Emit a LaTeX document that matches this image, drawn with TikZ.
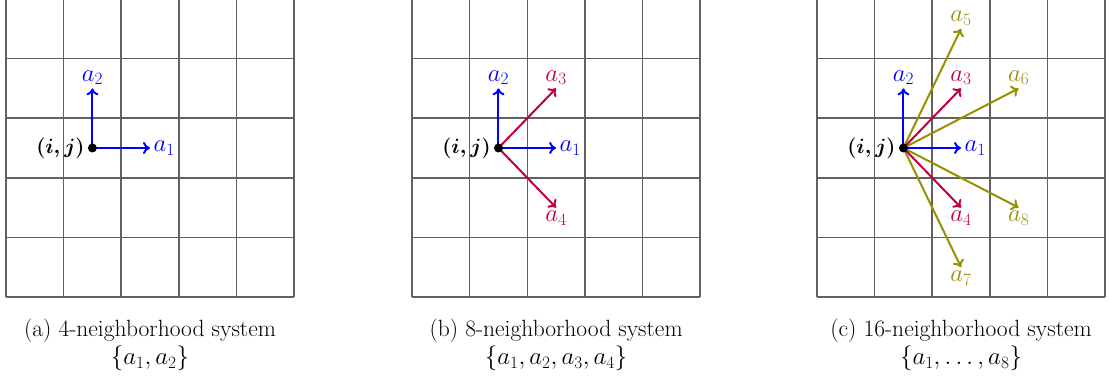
\documentclass[tikz,border=0pt]{standalone}
\usepackage{amsmath,amssymb}
\usepackage{xcolor}
\usetikzlibrary{arrows.meta}
\definecolor{nbblue}{RGB}{0,0,255}
\definecolor{nbred}{RGB}{191,0,64}
\definecolor{nbolive}{RGB}{150,145,0}

\begin{document}
\begin{tikzpicture}[
    x=57.6pt, y=59.6pt,
    font=\fontsize{23.5}{28}\selectfont,
    gridline/.style={draw=black!62, line width=1.5pt},
    vec/.style={-{To[length=7pt,width=12pt]}, line width=2pt},
    dot/.style={circle, fill=black, inner sep=0pt, minimum size=9pt},
    point/.style={left, inner sep=3pt, font=\fontsize{20}{24}\selectfont},
    caption/.style={align=center}
]
\useasboundingbox (-1.604,2.483) rectangle (17.649,-3.859);

% the three 5x5 grids
\foreach \s in {0,7.05,14.08} {
  \foreach \k in {0,...,5} {
    \draw[gridline] (\s-1.5+\k,-2.5) -- (\s-1.5+\k,2.5);
    \draw[gridline] (\s-1.5,-2.5+\k) -- (\s+3.5,-2.5+\k);
  }
}

% (a) 4-neighborhood system
\begin{scope}
  \coordinate (oa) at (0,0);
  \coordinate (a1a) at (1,0);
  \coordinate (a2a) at (0,1);
  \draw[vec, nbblue] (oa) -- (a1a);
  \draw[vec, nbblue] (oa) -- (a2a);
  \node[right, text=nbblue] (la1a) at (a1a) {$a_1$};
  \node[above, text=nbblue] (la2a) at (a2a) {$a_2$};
  \node[dot] (ija) at (oa) {};
  \node[point] (lija) at (ija.west) {$\boldsymbol{(i,j)}$};
  \node[caption] (capa) at (1,-3.305) {(a) 4-neighborhood system\\$\{a_1,a_2\}$};
\end{scope}

% (b) 8-neighborhood system
\begin{scope}[xshift=7.05*57.6pt]
  \coordinate (ob) at (0,0);
  \coordinate (a1b) at (1,0);
  \coordinate (a2b) at (0,1);
  \coordinate (a3b) at (1,1);
  \coordinate (a4b) at (1,-1);
  \draw[vec, nbblue] (ob) -- (a1b);
  \draw[vec, nbblue] (ob) -- (a2b);
  \draw[vec, nbred] (ob) -- (a3b);
  \draw[vec, nbred] (ob) -- (a4b);
  \node[right, text=nbblue] (la1b) at (a1b) {$a_1$};
  \node[above, text=nbblue] (la2b) at (a2b) {$a_2$};
  \node[above, text=nbred] (la3b) at (a3b) {$a_3$};
  \node[below, text=nbred] (la4b) at (a4b) {$a_4$};
  \node[dot] (ijb) at (ob) {};
  \node[point] (lijb) at (ijb.west) {$\boldsymbol{(i,j)}$};
  \node[caption] (capb) at (1,-3.305) {(b) 8-neighborhood system\\$\{a_1,a_2,a_3,a_4\}$};
\end{scope}

% (c) 16-neighborhood system
\begin{scope}[xshift=14.08*57.6pt]
  \coordinate (oc) at (0,0);
  \coordinate (a1c) at (1,0);
  \coordinate (a2c) at (0,1);
  \coordinate (a3c) at (1,1);
  \coordinate (a4c) at (1,-1);
  \coordinate (a5c) at (1,2);
  \coordinate (a6c) at (2,1);
  \coordinate (a7c) at (1,-2);
  \coordinate (a8c) at (2,-1);
  \draw[vec, nbolive] (oc) -- (a5c);
  \draw[vec, nbolive] (oc) -- (a6c);
  \draw[vec, nbolive] (oc) -- (a7c);
  \draw[vec, nbolive] (oc) -- (a8c);
  \draw[vec, nbred] (oc) -- (a3c);
  \draw[vec, nbred] (oc) -- (a4c);
  \draw[vec, nbblue] (oc) -- (a1c);
  \draw[vec, nbblue] (oc) -- (a2c);
  \node[right, text=nbblue] (la1c) at (a1c) {$a_1$};
  \node[above, text=nbblue] (la2c) at (a2c) {$a_2$};
  \node[above, text=nbred] (la3c) at (a3c) {$a_3$};
  \node[below, text=nbred] (la4c) at (a4c) {$a_4$};
  \node[above, text=nbolive] (la5c) at (a5c) {$a_5$};
  \node[above, text=nbolive] (la6c) at (a6c) {$a_6$};
  \node[below, text=nbolive] (la7c) at (a7c) {$a_7$};
  \node[below, text=nbolive] (la8c) at (a8c) {$a_8$};
  \node[dot] (ijc) at (oc) {};
  \node[point] (lijc) at (ijc.west) {$\boldsymbol{(i,j)}$};
  \node[caption] (capc) at (1,-3.305) {(c) 16-neighborhood system\\$\{a_1,\dots,a_8\}$};
\end{scope}
\end{tikzpicture}
\end{document}
